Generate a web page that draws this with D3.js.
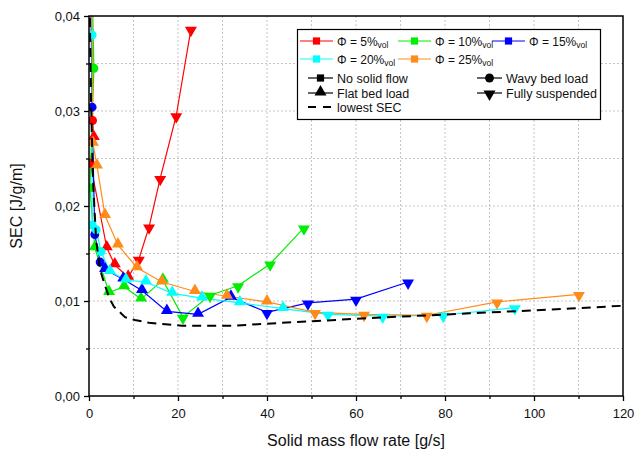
<!DOCTYPE html>
<html><head><meta charset="utf-8">
<script src="https://cdn.jsdelivr.net/npm/d3@7"></script>
<style>body{margin:0;background:#fff}svg{display:block}text{font-family:"Liberation Sans",Arial,sans-serif}</style>
</head><body><svg id="c" width="638" height="456"></svg>
<script>
// marker types: s = no solid flow, c = wavy bed load, u = flat bed load, d = fully suspended
const phi5 = [[0,0.06,"s"],[0.8,0.029,"c"],[1.1,0.0272,"u"],[0.3,0.0245,"c"],[4.0,0.0156,"u"],[5.8,0.0138,"u"],[8.8,0.0125,"u"],[11.2,0.0144,"d"],[13.5,0.0178,"d"],[16.0,0.0229,"d"],[19.6,0.0295,"d"],[22.9,0.0386,"d"]];
const phi10 = [[0,0.06,"s"],[1.1,0.0345,"c"],[0.2,0.0219,"c"],[1.3,0.0156,"u"],[4.5,0.0109,"u"],[7.9,0.0115,"u"],[11.7,0.0102,"u"],[16.6,0.0122,"u"],[21.1,0.0083,"d"],[27.2,0.0106,"d"],[33.5,0.0116,"d"],[40.7,0.0139,"d"],[48.3,0.0177,"d"]];
const phi15 = [[0,0.06,"s"],[0.7,0.0304,"c"],[1.3,0.017,"c"],[2.5,0.0141,"c"],[3.6,0.0133,"u"],[7.7,0.0123,"u"],[11.9,0.0111,"u"],[17.5,0.0089,"u"],[24.5,0.0086,"u"],[31.9,0.0104,"u"],[40.0,0.0088,"d"],[49.2,0.0098,"d"],[60.0,0.0102,"d"],[71.7,0.012,"d"]];
const phi20 = [[0,0.06,"s"],[0.7,0.038,"c"],[0.7,0.018,"c"],[1.6,0.0175,"c"],[2.7,0.0152,"c"],[4.7,0.0131,"u"],[8.3,0.0122,"u"],[12.8,0.012,"u"],[18.7,0.0108,"u"],[25.4,0.0103,"u"],[33.9,0.0098,"u"],[43.6,0.0092,"u"],[53.7,0.0086,"d"],[66.0,0.0084,"d"],[79.6,0.0085,"d"],[95.7,0.0093,"d"]];
const phi25 = [[0.3,0.06,"s"],[0.9,0.0266,"u"],[1.8,0.0242,"u"],[3.6,0.019,"u"],[6.5,0.0159,"u"],[10.8,0.0135,"u"],[16.4,0.012,"u"],[23.8,0.011,"u"],[31.0,0.0105,"u"],[40.0,0.0099,"u"],[50.8,0.0088,"d"],[61.8,0.0086,"d"],[75.9,0.0085,"d"],[91.7,0.0099,"d"],[110.1,0.0107,"d"]];
const lowestSEC = [[0.2,0.0398],[0.45,0.0312],[0.9,0.0227],[1.6,0.0164],[2.5,0.0133],[3.4,0.0119],[4.5,0.0104],[5.6,0.0094],[8.1,0.0083],[10.3,0.008],[13.5,0.0077],[20.9,0.0074],[32.1,0.0074],[43.4,0.0077],[63.1,0.0082],[85.6,0.0087],[108.1,0.0092],[120,0.0095]];
const seriesNames = ["5%","10%","15%","20%","25%"];
const seriesColors = ["#ff0000","#00ee00","#0000ff","#00ffff","#ff8c1a"];
const seriesData = [phi5,phi10,phi15,phi20,phi25];
const xTicks = [0,20,40,60,80,100,120];
const yTicks = [0,0.01,0.02,0.03,0.04];
const regimeLabels = [["s","No solid flow"],["c","Wavy bed load"],["u","Flat bed load"],["d","Fully suspended"]];

const svg = d3.select("#c");
const L=89,R=623,T=16,B=396;
const x = d3.scaleLinear().domain([0,120]).range([L,R]);
const y = d3.scaleLinear().domain([0,0.04]).range([B,T]);

svg.append("defs").append("clipPath").attr("id","clip").append("rect")
  .attr("x",L).attr("y",T).attr("width",R-L).attr("height",B-T);

// grid
const g = svg.append("g");
d3.range(10,120,10).forEach(v=>g.append("line").attr("x1",x(v)).attr("x2",x(v)).attr("y1",T).attr("y2",B)
  .attr("stroke","#c4c4c4").attr("stroke-dasharray","2,2").attr("stroke-width",1));
d3.range(1,8).map(i=>i*0.005).forEach(v=>g.append("line").attr("x1",L).attr("x2",R).attr("y1",y(v)).attr("y2",y(v))
  .attr("stroke","#c4c4c4").attr("stroke-dasharray","2,2").attr("stroke-width",1));

// axes
const fmt = v=>d3.format(".2f")(v).replace(".",",");
const xa = svg.append("g").attr("transform",`translate(0,${B})`)
  .call(d3.axisBottom(x).tickValues(xTicks).tickSize(5).tickSizeOuter(0).tickFormat(d3.format("d")));
const xm = svg.append("g").attr("transform",`translate(0,${B})`)
  .call(d3.axisBottom(x).tickValues(d3.range(10,120,20)).tickSize(3).tickFormat(""));
const ya = svg.append("g").attr("transform",`translate(${L},0)`)
  .call(d3.axisLeft(y).tickValues(yTicks).tickSize(5).tickSizeOuter(0).tickFormat(fmt));
const ym = svg.append("g").attr("transform",`translate(${L},0)`)
  .call(d3.axisLeft(y).tickValues([0.005,0.015,0.025,0.035]).tickSize(3).tickFormat(""));
[xa,xm,ya,ym].forEach(a=>{a.select(".domain").remove();a.selectAll("line").attr("stroke","#000").attr("stroke-width",1.3);
  a.selectAll("text").attr("font-size",13).attr("fill","#111").attr("font-family","Liberation Sans, Arial, sans-serif");});
xa.selectAll("text").attr("dy","1.05em");
ya.selectAll("text").attr("dx","-1");

svg.append("text").attr("x",(L+R)/2).attr("y",446).attr("text-anchor","middle").attr("font-size",16).attr("fill","#111").text("Solid mass flow rate [g/s]");
svg.append("text").attr("transform",`translate(22,${(T+B)/2}) rotate(-90)`).attr("text-anchor","middle").attr("font-size",16).attr("fill","#111").text("SEC [J/g/m]");

function sym(t){
  if(t==="s") return d3.symbol().type(d3.symbolSquare).size(52)();
  if(t==="c") return d3.symbol().type(d3.symbolCircle).size(62)();
  return d3.symbol().type(d3.symbolTriangle).size(62)();
}
function place(t,px,py){ return t==="d" ? `translate(${px},${py+1}) rotate(180)` : (t==="u"?`translate(${px},${py-1})`:`translate(${px},${py})`); }

const plot = svg.append("g").attr("clip-path","url(#clip)");
const line = d3.line().x(d=>x(d[0])).y(d=>y(d[1]));
seriesData.forEach((data,i)=>{
  plot.append("path").datum(data).attr("d",line).attr("fill","none").attr("stroke",seriesColors[i]).attr("stroke-width",1.2);
});
seriesData.forEach((data,i)=>{
  plot.selectAll(null).data(data).enter().append("path")
    .attr("d",d=>sym(d[2])).attr("transform",d=>place(d[2],x(d[0]),y(d[1]))).attr("fill",seriesColors[i]);
});
plot.append("path").datum(lowestSEC).attr("d",line).attr("fill","none").attr("stroke","#000").attr("stroke-width",2).attr("stroke-dasharray","9,6");

// frame
svg.append("rect").attr("x",L).attr("y",T).attr("width",R-L).attr("height",B-T).attr("fill","none").attr("stroke","#000").attr("stroke-width",1.5);

// legend
const lg = svg.append("g");
lg.append("rect").attr("x",297.5).attr("y",29.5).attr("width",303).attr("height",90).attr("fill","#fff").attr("stroke","#000").attr("stroke-width",1.2);
const cols=[300,398,492], rows=[41,59];
seriesNames.forEach((n,i)=>{
  const cx=cols[i%3], cy=rows[Math.floor(i/3)];
  lg.append("line").attr("x1",cx).attr("x2",cx+33).attr("y1",cy).attr("y2",cy).attr("stroke",seriesColors[i]).attr("stroke-width",1.2);
  lg.append("path").attr("d",d3.symbol().type(d3.symbolSquare).size(52)()).attr("transform",`translate(${cx+16.5},${cy})`).attr("fill",seriesColors[i]);
  const t=lg.append("text").attr("x",cx+37).attr("y",cy+4.5).attr("font-size",12).attr("fill","#111");
  t.append("tspan").text(`Φ = ${n}`);
  t.append("tspan").attr("font-size",8.5).attr("dy",2).text("vol");
});
const rpos=[[308,78],[477,78],[308,93],[477,93]];
regimeLabels.forEach(([k,lab],i)=>{
  const [lx,ly]=rpos[i];
  lg.append("line").attr("x1",lx).attr("x2",lx+25).attr("y1",ly).attr("y2",ly).attr("stroke","#000").attr("stroke-width",1.2);
  lg.append("path").attr("d",sym(k)).attr("transform",place(k,lx+12.5,ly)).attr("fill","#000");
  lg.append("text").attr("x",lx+29).attr("y",ly+4.5).attr("font-size",12.5).attr("fill","#111").text(lab);
});
lg.append("line").attr("x1",308).attr("x2",334).attr("y1",107).attr("y2",107).attr("stroke","#000").attr("stroke-width",2).attr("stroke-dasharray","8,7");
lg.append("text").attr("x",337).attr("y",111.5).attr("font-size",12.5).attr("fill","#111").text("lowest SEC");
</script></body></html>
